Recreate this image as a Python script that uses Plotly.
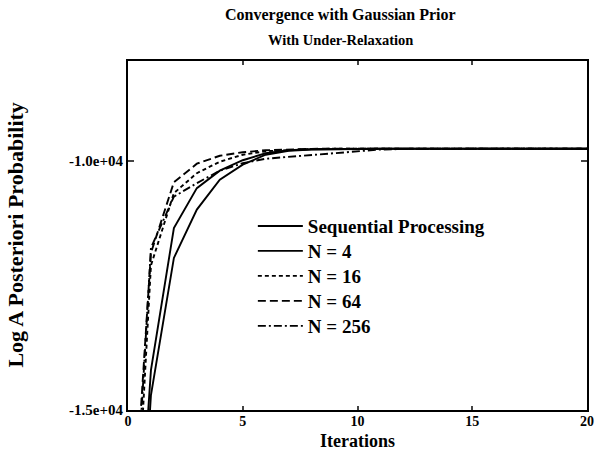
import plotly.graph_objects as go

iterations = list(range(0, 21))

seq_vals = [-22000, -14700, -11950, -10980, -10380, -10080, -9880, -9800, -9775, -9765,
            -9760, -9760, -9760, -9760, -9760, -9760, -9760, -9760, -9760, -9760, -9760]
n4_vals = [-21000, -14200, -11350, -10550, -10200, -9990, -9850, -9790, -9770, -9762,
           -9760, -9760, -9760, -9760, -9760, -9760, -9760, -9760, -9760, -9760, -9760]
n16_vals = [-20500, -12100, -10650, -10250, -10020, -9880, -9810, -9780, -9765, -9760,
            -9760, -9760, -9760, -9760, -9760, -9760, -9760, -9760, -9760, -9760, -9760]
n64_vals = [-19000, -11850, -10430, -10060, -9900, -9830, -9790, -9770, -9762, -9760,
            -9760, -9760, -9760, -9760, -9760, -9760, -9760, -9760, -9760, -9760, -9760]
n256_vals = [-19700, -11750, -10720, -10450, -10200, -10050, -9960, -9920, -9880, -9840,
             -9800, -9775, -9765, -9760, -9760, -9760, -9760, -9760, -9760, -9760, -9760]

series_names = ["Sequential Processing", "N = 4", "N = 16", "N = 64", "N = 256"]
series_vals = [seq_vals, n4_vals, n16_vals, n64_vals, n256_vals]
dashes = ["solid", "solid", "4px,3px", "8px,4px", "8px,3px,2px,3px"]

x_ticks = [0, 5, 10, 15, 20]
y_ticks = [-15000, -10000]
y_ticktext = ["<b>-1.5e+04</b>", "<b>-1.0e+04</b>"]
x_ticktext = [f"<b>{v}</b>" for v in x_ticks]

FONT = "Liberation Serif"
legend_ids = ["legend", "legend2", "legend3", "legend4", "legend5"]

fig = go.Figure()
for lid, name, vals, d in zip(legend_ids, series_names, series_vals, dashes):
    fig.add_trace(go.Scatter(
        x=iterations, y=vals, mode="lines", name=f"<b>{name}</b>",
        legend=lid,
        line=dict(color="black", width=1.9, dash=d),
    ))

legend_layout = {}
for k, lid in enumerate(legend_ids):
    legend_layout[lid] = dict(
        x=0.272, y=0.527 - k * 0.0716, xanchor="left", yanchor="middle",
        bgcolor="rgba(0,0,0,0)", font=dict(family=FONT, size=19, color="black"),
        itemwidth=45,
    )

fig.update_layout(
    width=596, height=452, autosize=False,
    margin=dict(l=128, r=9, t=61, b=42),
    paper_bgcolor="white", plot_bgcolor="white",
    font=dict(family=FONT, color="black", size=14),
    showlegend=True,
    **legend_layout,
    xaxis=dict(
        range=[0, 20], tickvals=x_ticks, ticktext=x_ticktext, automargin=False,
        ticks="inside", ticklen=4, tickwidth=1.5, ticklabelstandoff=-3,
        showline=True, linecolor="black", linewidth=2, mirror="ticks",
        showgrid=False, zeroline=False, tickfont=dict(size=14),
    ),
    yaxis=dict(
        range=[-15000, -8000], tickvals=y_ticks, ticktext=y_ticktext, automargin=False,
        ticks="inside", ticklen=6, tickwidth=1.5,
        showline=True, linecolor="black", linewidth=2, mirror="ticks",
        showgrid=False, zeroline=False, tickfont=dict(size=15),
    ),
    annotations=[
        dict(text="<b>Convergence with Gaussian Prior</b>", xref="paper", yref="paper",
             x=0.462, y=1.132, xanchor="center", yanchor="middle", showarrow=False,
             font=dict(size=16)),
        dict(text="<b>With Under-Relaxation</b>", xref="paper", yref="paper",
             x=0.462, y=1.060, xanchor="center", yanchor="middle", showarrow=False,
             font=dict(size=14.5)),
        dict(text="<b>Iterations</b>", xref="paper", yref="paper",
             x=0.5, y=-0.088, xanchor="center", yanchor="middle", showarrow=False,
             font=dict(size=18)),
        dict(text="<b>Log A Posteriori Probability</b>", xref="paper", yref="paper",
             x=-0.246, y=0.5, xanchor="center", yanchor="middle", showarrow=False,
             textangle=-90, font=dict(size=22)),
    ],
)

fig.write_html(
    "out.html",
    config={"displayModeBar": False, "responsive": False},
    post_script="document.body.style.margin='0';document.body.style.overflow='hidden';",
)
